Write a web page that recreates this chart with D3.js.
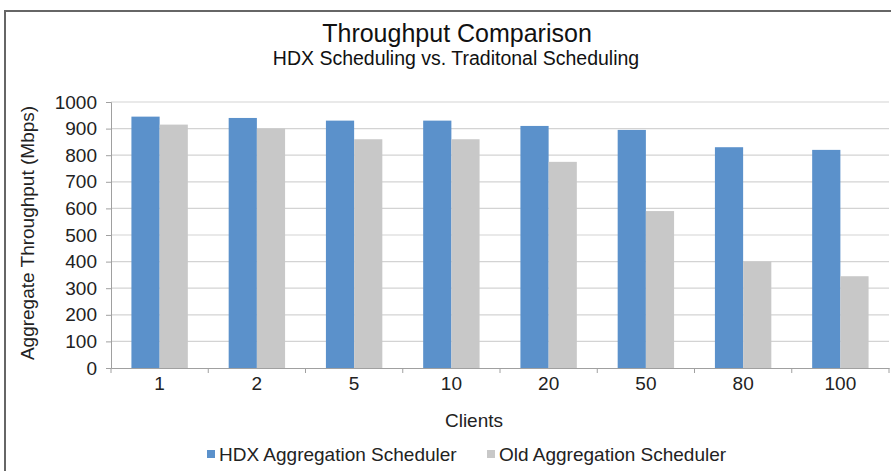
<!DOCTYPE html>
<html><head><meta charset="utf-8">
<script src="https://cdn.jsdelivr.net/npm/d3@7"></script>
<style>body{margin:0;background:#fff}svg{display:block;font-family:"Liberation Sans",Arial,sans-serif}</style>
</head><body>
<svg id="c" width="891" height="471"></svg>
<script>
const categories = ["1","2","5","10","20","50","80","100"];
const hdxValues = [945, 940, 930, 930, 910, 895, 830, 820];
const oldValues = [915, 900, 860, 860, 775, 590, 400, 345];
const seriesNames = ["HDX Aggregation Scheduler", "Old Aggregation Scheduler"];
const yTicks = [0,100,200,300,400,500,600,700,800,900,1000];

const colors = ["#5b91cb", "#c8c8c8"];
const svg = d3.select("#c");
const m = {l:111, r:889, t:102, b:368};
const FS = 19;

svg.append("rect").attr("x",5).attr("y",11).attr("width",900).attr("height",500)
  .attr("fill","none").attr("stroke","#666").attr("stroke-width",2);

const x = d3.scaleBand().domain(categories).range([m.l, m.r]).paddingInner(0.42).paddingOuter(0.21);
const x0 = d3.scaleBand().domain(categories).range([m.l, m.r]);
const xs = d3.scaleBand().domain([0,1]).range([0, x.bandwidth()]);
const y = d3.scaleLinear().domain([0,1000]).range([m.b, m.t]);

// gridlines
svg.append("g").selectAll("line").data(yTicks.slice(1)).join("line")
  .attr("x1", m.l).attr("x2", m.r).attr("y1", d=>y(d)).attr("y2", d=>y(d))
  .attr("stroke","#d3d3d3").attr("stroke-width",1.2);

// bars
const data = categories.map((c,i)=>({c, v:[hdxValues[i], oldValues[i]]}));
const g = svg.append("g").selectAll("g").data(data).join("g")
  .attr("transform", d=>`translate(${x(d.c)},0)`);
g.selectAll("rect").data(d=>d.v.map((v,k)=>({v,k}))).join("rect")
  .attr("x", d=>xs(d.k)).attr("width", xs.bandwidth())
  .attr("y", d=>y(d.v)).attr("height", d=>y(0)-y(d.v))
  .attr("fill", d=>colors[d.k]);

// y axis
const ya = svg.append("g").attr("transform",`translate(${m.l},0)`)
  .call(d3.axisLeft(y).tickValues(yTicks).tickFormat(d3.format("d")).tickSize(5).tickPadding(9));
ya.select(".domain").attr("stroke","#a0a0a0");
ya.selectAll(".tick line").attr("stroke","#a0a0a0");
ya.selectAll("text").attr("font-size",FS).attr("fill","#222").attr("font-family","Liberation Sans, Arial, sans-serif");

// x axis
const xa = svg.append("g").attr("transform",`translate(0,${m.b})`)
  .call(d3.axisBottom(x0).tickSize(0).tickPadding(8.5));
xa.select(".domain").attr("stroke","#a0a0a0");
xa.selectAll("text").attr("font-size",FS).attr("fill","#222").attr("font-family","Liberation Sans, Arial, sans-serif");
svg.append("g").selectAll("line").data(categories.map((c,i)=>i).concat([categories.length])).join("line")
  .attr("x1", i=>m.l + i*x0.step()).attr("x2", i=>m.l + i*x0.step())
  .attr("y1", m.b).attr("y2", m.b+5).attr("stroke","#a0a0a0");

// titles
svg.append("text").attr("x",457).attr("y",42).attr("text-anchor","middle")
  .attr("font-size",25).attr("fill","#111").text("Throughput Comparison");
svg.append("text").attr("x",456).attr("y",65).attr("text-anchor","middle")
  .attr("font-size",19.5).attr("fill","#111").text("HDX Scheduling vs. Traditonal Scheduling");
svg.append("text").attr("transform","translate(34,233) rotate(-90)").attr("text-anchor","middle")
  .attr("font-size",FS).attr("fill","#222").text("Aggregate Throughput (Mbps)");
svg.append("text").attr("x",474).attr("y",427).attr("text-anchor","middle")
  .attr("font-size",FS).attr("fill","#222").text("Clients");

// legend
const lx = [207, 487];
const lg = svg.append("g").selectAll("g").data(seriesNames).join("g")
  .attr("transform",(d,i)=>`translate(${lx[i]},461)`);
lg.append("rect").attr("x",0).attr("y",-11).attr("width",8).attr("height",8).attr("fill",(d,i)=>colors[i]);
lg.append("text").attr("x",12).attr("y",0).attr("font-size",FS).attr("fill","#222").text(d=>d);
</script>
</body></html>
